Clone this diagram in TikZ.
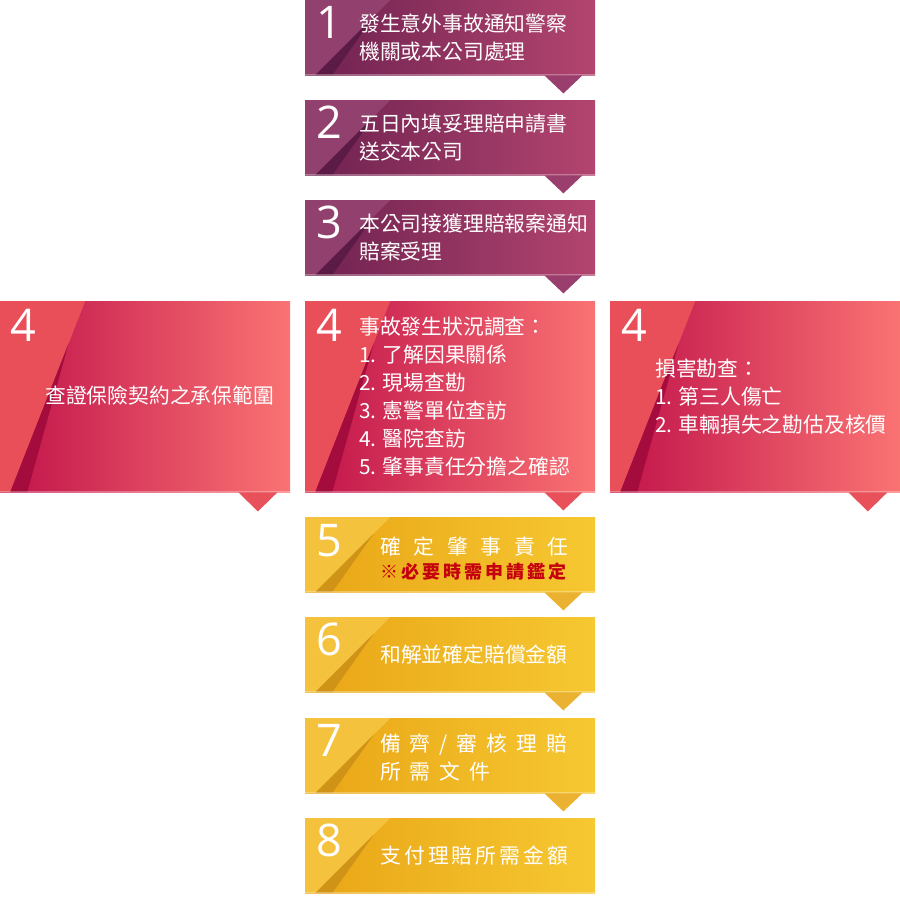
\documentclass[tikz,border=0pt]{standalone}
\usepackage{fontspec}
\setmainfont{Noto Sans CJK TC}
\newfontfamily\numfont{Open Sans}
\usetikzlibrary{calc,positioning}

\definecolor{purpL}{HTML}{6E2150}
\definecolor{purpR}{HTML}{B2456F}
\definecolor{purpT}{HTML}{92406D}
\definecolor{purpS}{HTML}{5C1B46}
\definecolor{purpA}{HTML}{9A3E6D}
\definecolor{redL}{HTML}{C0124A}
\definecolor{redR}{HTML}{FA7373}
\definecolor{redT}{HTML}{E84F58}
\definecolor{redS}{HTML}{A30C3C}
\definecolor{redA}{HTML}{E8505A}
\definecolor{yelL}{HTML}{E9A515}
\definecolor{yelR}{HTML}{F6C832}
\definecolor{yelT}{HTML}{F4C23C}
\definecolor{yelS}{HTML}{CF9318}
\definecolor{yelA}{HTML}{EBB232}
\definecolor{warnred}{HTML}{C5000F}

% light corner and shadow stripe of every step box
\newcommand\stepdeco[2]{%
  \coordinate (dt) at ($(path picture bounding box.north west)+(85,0)$);
  \coordinate (db) at ($(path picture bounding box.south west)+(10,0)$);
  \fill[#1] (path picture bounding box.north west) -- (dt) -- (db) -- (path picture bounding box.south west) -- cycle;
  \fill[#2] (db) -- ++(17,0) -- ($(dt)!0.22!(db)$) -- cycle;
  \draw[white, opacity=.3, line width=2pt] (path picture bounding box.south west) -- (path picture bounding box.south east);
}

\begin{document}
\begin{tikzpicture}
	[x=1pt, y=-1pt,
	stepbox/.style={rectangle, draw=none, inner sep=0pt, minimum width=290pt, minimum height=75pt, anchor=north west},
	purpbox/.style={stepbox, left color=purpL, right color=purpR, path picture={\stepdeco{purpT}{purpS}}},
	redbox/.style={stepbox, minimum height=191pt, left color=redL, right color=redR, path picture={\stepdeco{redT}{redS}}},
	yelbox/.style={stepbox, left color=yelL, right color=yelR, path picture={\stepdeco{yelT}{yelS}}},
	num/.style={inner sep=0pt, text=white, font=\numfont\fontsize{45}{45}\selectfont},
	txt/.style={anchor=west, inner sep=0pt, text=white, align=left, font=\fontsize{20.8}{27.5}\selectfont},
	list/.style={txt, font=\fontsize{20.8}{28}\selectfont}
	]
	\useasboundingbox (0,0) rectangle (900,914);

	\node[purpbox] (s1) at (305,0){};
	\node[purpbox] (s2) at (305,100){};
	\node[purpbox] (s3) at (305,200){};
	\node[redbox] (s4l) at (0,301){};
	\node[redbox] (s4) at (305,301){};
	\node[redbox] (s4r) at (610,301){};
	\node[yelbox] (s5) at (305,517){};
	\node[yelbox] (s6) at (305,617){};
	\node[yelbox] (s7) at (305,718){};
	\node[yelbox] (s8) at (305,818){};

	\node[num, below right=6pt and 11pt of s1.north west]{1};
	\node[num, below right=6pt and 11pt of s2.north west]{2};
	\node[num, below right=6pt and 11pt of s3.north west]{3};
	\node[num, below right=8pt and 10pt of s4l.north west]{4};
	\node[num, below right=8pt and 11pt of s4.north west]{4};
	\node[num, below right=8pt and 11pt of s4r.north west]{4};
	\node[num, below right=7pt and 11pt of s5.north west]{5};
	\node[num, below right=6pt and 11pt of s6.north west]{6};
	\node[num, below right=6pt and 11pt of s7.north west]{7};
	\node[num, below right=6pt and 11pt of s8.north west]{8};

	\node[txt, right=54pt of s1.west]{發生意外事故通知警察\\機關或本公司處理};
	\node[txt, right=54pt of s2.west]{五日內填妥理賠申請書\\送交本公司};
	\node[txt, right=54pt of s3.west]{本公司接獲理賠報案通知\\賠案受理};
	\node[txt, right=45pt of s4l.west, yshift=1pt]{查證保險契約之承保範圍};
	\node[list, right=54pt of s4.west]{事故發生狀況調查：\\1. 了解因果關係\\2. 現場查勘\\3. 憲警單位查訪\\4. 醫院查訪\\5. 肇事責任分擔之確認};
	\node[list, right=45pt of s4r.west]{損害勘查：\\1. 第三人傷亡\\2. 車輛損失之勘估及核價};
	\node[txt, right=75pt of s5.west, yshift=-4pt]{{\addfontfeatures{LetterSpace=61}確定肇事責任}\\[-3pt]
		{\fontsize{18}{18}\selectfont\bfseries\color{warnred}\addfontfeatures{LetterSpace=17}※必要時需申請鑑定}};
	\node[txt, right=75pt of s6.west]{和解並確定賠償金額};
	\node[txt, right=75pt of s7.west, yshift=-2pt]{{\addfontfeatures{LetterSpace=43}備齊/審核理賠}\\{\addfontfeatures{LetterSpace=43}所需文件}};
	\node[txt, right=75pt of s8.west]{{\addfontfeatures{LetterSpace=15}支付理賠所需金額}};

	\fill[purpA] ($(s1.south east)+(-51,0)$) -- ++(38,0) -- ++(-19,18) -- cycle;
	\fill[purpA] ($(s2.south east)+(-51,0)$) -- ++(38,0) -- ++(-19,18) -- cycle;
	\fill[purpA] ($(s3.south east)+(-51,0)$) -- ++(38,0) -- ++(-19,18) -- cycle;
	\fill[redA] ($(s4l.south east)+(-52,0)$) -- ++(39,0) -- ++(-19.5,19) -- cycle;
	\fill[redA] ($(s4.south east)+(-51,0)$) -- ++(38,0) -- ++(-19,18) -- cycle;
	\fill[redA] ($(s4r.south east)+(-52,0)$) -- ++(39,0) -- ++(-19.5,19) -- cycle;
	\fill[yelA] ($(s5.south east)+(-51,0)$) -- ++(38,0) -- ++(-19,18) -- cycle;
	\fill[yelA] ($(s6.south east)+(-51,0)$) -- ++(38,0) -- ++(-19,18) -- cycle;
	\fill[yelA] ($(s7.south east)+(-51,0)$) -- ++(38,0) -- ++(-19,18) -- cycle;
\end{tikzpicture}
\end{document}
